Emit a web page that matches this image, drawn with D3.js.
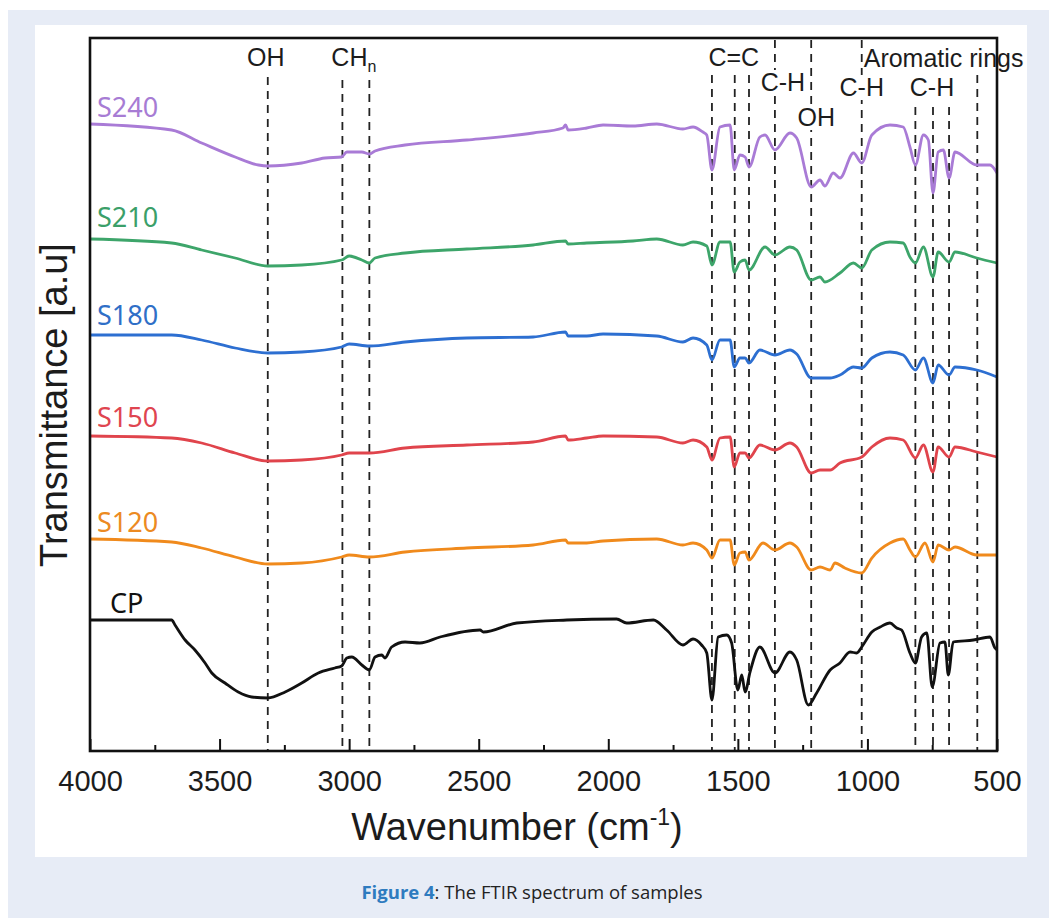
<!DOCTYPE html>
<html lang="en">
<head>
<meta charset="UTF-8">
<title>FTIR spectrum</title>
<script src="https://d3js.org/d3.v7.min.js"></script>
<style>
  body { margin: 0; background: #fff; }
  svg { display: block; }
</style>
</head>
<body>
<script>
// wavenumber (cm-1), transmittance (a.u., offset per sample)
const s240 = [[4000,62.6],[3685,62.0],[3569,60.7],[3440,59.3],[3350,58.5],[3314,58.4],[3183,58.7],[3093,59.2],[3029,59.3],[3009,59.8],[2951,59.8],[2922,59.6],[2900,59.9],[2784,60.5],[2546,61.0],[2290,61.7],[2175,62.2],[2165,62.5],[2155,62.0],[2083,62.2],[2020,62.5],[1905,62.4],[1813,62.6],[1712,62.1],[1673,62.3],[1635,61.8],[1620,61.5],[1600,58.0],[1569,62.3],[1530,62.5],[1514,58.0],[1492,59.5],[1472,59.3],[1457,58.3],[1415,61.3],[1395,61.5],[1357,60.0],[1299,61.7],[1273,61.2],[1217,56.3],[1183,57.0],[1164,56.4],[1132,57.7],[1106,57.2],[1054,59.7],[1022,58.7],[983,61.5],[913,62.5],[862,62.3],[836,60.3],[815,58.5],[784,61.5],[765,61.0],[747,55.7],[727,59.8],[707,60.0],[685,57.2],[662,59.8],[578,58.5],[527,58.5],[500,57.7]];
const s210 = [[4000,51.1],[3685,50.7],[3569,50.0],[3440,49.2],[3314,48.4],[3183,48.5],[3029,49.0],[3000,49.4],[2951,49.0],[2922,48.7],[2900,49.2],[2784,49.7],[2546,50.1],[2290,50.5],[2165,50.9],[2155,50.6],[2083,50.7],[1905,50.9],[1813,51.1],[1712,50.5],[1673,50.8],[1620,50.4],[1600,48.5],[1569,50.8],[1530,50.8],[1514,47.8],[1492,48.8],[1472,49.0],[1457,48.0],[1395,50.3],[1357,49.5],[1299,50.3],[1273,50.0],[1217,47.0],[1183,47.3],[1164,46.8],[1106,47.7],[1054,48.7],[1022,48.2],[983,50.0],[913,50.8],[862,50.7],[836,49.3],[815,48.7],[784,50.3],[747,47.3],[727,49.8],[685,48.8],[662,49.8],[578,49.2],[500,48.7]];
const s180 = [[4000,41.5],[3685,41.5],[3569,41.0],[3440,40.2],[3314,39.7],[3183,39.8],[3029,40.3],[3000,40.6],[2922,40.4],[2784,40.8],[2546,41.2],[2290,41.3],[2165,41.8],[2155,41.4],[2083,41.4],[2020,41.6],[1813,41.4],[1712,40.8],[1673,41.2],[1620,40.5],[1600,39.0],[1569,41.0],[1530,41.0],[1514,38.3],[1492,39.2],[1472,39.2],[1457,38.7],[1415,40.0],[1357,39.5],[1299,40.0],[1273,39.6],[1217,37.2],[1183,37.2],[1144,37.2],[1106,37.5],[1054,38.3],[1022,38.2],[983,39.2],[913,39.8],[862,39.5],[815,38.0],[784,39.2],[747,36.7],[727,38.5],[685,37.5],[662,38.3],[578,38.0],[500,37.3]];
const s150 = [[4000,31.4],[3685,31.2],[3569,30.7],[3440,29.7],[3314,28.9],[3183,29.0],[3029,29.5],[3000,29.7],[2922,29.7],[2784,30.2],[2546,30.5],[2290,30.8],[2165,31.4],[2155,31.0],[2083,31.2],[2020,31.4],[1813,31.3],[1712,30.7],[1673,31.0],[1620,30.3],[1600,29.0],[1569,31.2],[1530,31.3],[1514,28.3],[1492,29.7],[1472,29.7],[1457,29.2],[1415,30.5],[1357,30.0],[1299,30.7],[1273,30.3],[1217,27.7],[1183,28.0],[1144,28.0],[1106,28.7],[1022,29.3],[983,30.3],[913,31.2],[862,31.0],[815,29.2],[784,30.5],[747,27.8],[727,30.3],[685,29.3],[662,30.3],[578,29.8],[500,29.3]];
const s120 = [[4000,21.1],[3685,20.8],[3569,20.2],[3440,19.3],[3314,18.6],[3183,18.7],[3029,19.3],[3000,19.5],[2922,19.3],[2784,19.8],[2546,20.2],[2290,20.5],[2165,21.0],[2155,20.7],[2083,20.7],[2020,20.9],[1813,21.1],[1712,20.5],[1673,20.7],[1620,20.0],[1600,19.2],[1569,21.0],[1530,21.0],[1514,18.5],[1492,19.7],[1472,19.8],[1457,19.0],[1403,20.7],[1357,20.0],[1299,20.7],[1273,20.3],[1217,18.0],[1183,18.3],[1144,18.0],[1125,18.7],[1087,18.2],[1022,17.7],[983,19.2],[913,20.7],[862,21.1],[836,20.0],[815,19.3],[778,20.7],[747,18.8],[727,20.5],[685,20.0],[662,20.3],[578,19.5],[500,19.5]];
const cp = [[4000,13.0],[3685,13.0],[3672,12.5],[3633,11.0],[3595,10.0],[3556,8.7],[3530,7.7],[3479,6.7],[3428,5.8],[3376,5.3],[3314,5.2],[3247,5.8],[3183,6.7],[3119,7.7],[3055,8.2],[3029,8.4],[3009,9.2],[2990,9.3],[2951,8.5],[2922,8.0],[2900,9.3],[2874,9.5],[2862,9.2],[2836,10.3],[2784,10.8],[2727,10.7],[2649,11.3],[2495,12.0],[2482,11.8],[2353,12.7],[2160,13.0],[1968,13.1],[1929,12.7],[1826,13.0],[1775,12.0],[1712,10.5],[1673,11.1],[1640,10.5],[1620,9.7],[1600,5.0],[1576,11.3],[1543,11.5],[1524,10.7],[1500,6.0],[1485,7.5],[1472,5.8],[1453,7.8],[1415,10.3],[1357,7.7],[1299,9.8],[1273,9.0],[1228,4.5],[1196,5.7],[1144,8.0],[1106,8.7],[1067,9.8],[1041,9.7],[1022,10.3],[983,11.8],[951,12.3],[913,12.7],[887,12.2],[868,12.0],[836,9.7],[815,8.7],[791,11.3],[771,11.7],[750,6.3],[720,10.7],[701,10.8],[688,7.5],[669,10.8],[591,11.0],[527,11.3],[508,10.2],[500,10.0]];

const sampleNames = ["S240", "S210", "S180", "S150", "S120", "CP"];
const sampleData = [s240, s210, s180, s150, s120, cp];

// band positions (cm-1) marked with dashed lines
const bandLines = [3314, 3026, 2922, 1600, 1512, 1457, 1357, 1217, 1022, 815, 747, 685, 576];
const bandLabels = ["OH", "CH", "C=C", "C-H", "OH", "C-H", "Aromatic rings", "C-H"];

const majorTicks = [4000, 3500, 3000, 2500, 2000, 1500, 1000, 500];
const minorTicks = [3750, 3250, 2750, 2250, 1750, 1250, 750];

// styling / layout
const colors = ["#a97bd6", "#3da56a", "#2d6fd1", "#e0444c", "#f08a1c", "#111111"];
const labelColors = ["#a77cd4", "#3b9f69", "#2f6fc7", "#df4550", "#ec8a22", "#111111"];
const labelPos = [[97, 117], [97, 227], [97, 325], [97, 427], [97, 532], [110, 613]];
const lineTop = [77, 80, 80, 75, 75, 75, 40, 40, 40, 107, 107, 107, 75];
// [wavenumber anchor, x shift, baseline y, anchor, white box]
const bandLabelPos = [
  [3314, -2, 66, "middle", false],
  [2974, -2, 66, "middle", false],
  [1512, -1, 66, "middle", false],
  [1357, 8, 91, "middle", true],
  [1217, 5, 126, "middle", true],
  [1022, 0, 96, "middle", true],
  [1022, 2, 67, "start", false],
  [747, -1, 96, "middle", false]
];

const W = 1049, H = 918;
const svg = d3.select("body").append("svg")
  .attr("width", W)
  .attr("height", H);

// page background
svg.append("rect").attr("x", 8).attr("y", 10).attr("width", W - 8).attr("height", H - 10).attr("fill", "#e7ecf6");
svg.append("rect").attr("x", 35).attr("y", 25).attr("width", 992).attr("height", 832).attr("fill", "#fff");

const plotL = 90, plotR = 997, plotT = 38, plotB = 751;
const x = d3.scaleLinear().domain([4000, 500]).range([plotL, plotR]);
const y = d3.scaleLinear().domain([0, 71.2]).range([750, 38]);

// dashed band lines
svg.append("g").selectAll("line")
  .data(bandLines)
  .enter().append("line")
  .attr("x1", d => x(d)).attr("x2", d => x(d))
  .attr("y1", (d, i) => lineTop[i]).attr("y2", plotB)
  .attr("stroke", "#222")
  .attr("stroke-width", 1.8)
  .attr("stroke-dasharray", "8,6");

// band labels
const bl = svg.append("g")
  .style("font-family", "'Liberation Sans', Arial, sans-serif")
  .style("font-size", "25px")
  .attr("fill", "#1c1c1c");

bandLabels.forEach((t, i) => {
  const p = bandLabelPos[i];
  const g = bl.append("g");
  const txt = g.append("text")
    .attr("x", x(p[0]) + p[1])
    .attr("y", p[2])
    .attr("text-anchor", p[3])
    .text(t);
  if (t === "CH") {
    txt.append("tspan").attr("dy", 6).style("font-size", "16px").text("n");
  }
  if (p[4]) {
    const b = txt.node().getBBox();
    g.insert("rect", "text")
      .attr("x", b.x - 1).attr("y", b.y + 2)
      .attr("width", b.width + 2).attr("height", b.height - 3)
      .attr("fill", "#fff");
  }
});

// spectra
const line = d3.line()
  .x(d => x(d[0]))
  .y(d => y(d[1]))
  .curve(d3.curveMonotoneX);

svg.append("g").selectAll("path")
  .data(sampleData)
  .enter().append("path")
  .attr("d", line)
  .attr("fill", "none")
  .attr("stroke", (d, i) => colors[i])
  .attr("stroke-width", 2.8)
  .attr("stroke-linejoin", "round");

// sample names
svg.append("g").selectAll("text")
  .data(sampleNames)
  .enter().append("text")
  .attr("x", (d, i) => labelPos[i][0])
  .attr("y", (d, i) => labelPos[i][1])
  .attr("fill", (d, i) => labelColors[i])
  .style("font-family", "'Noto Sans', sans-serif")
  .style("font-size", "27px")
  .text(d => d);

// x axis ticks
const axisMajor = d3.axisBottom(x)
  .tickValues(majorTicks)
  .tickSize(-12)
  .tickPadding(19)
  .tickFormat(d3.format("d"));

const gx = svg.append("g")
  .attr("transform", `translate(0,${plotB})`)
  .call(axisMajor);
gx.select(".domain").remove();
gx.selectAll(".tick line").attr("stroke", "#111").attr("stroke-width", 2);
gx.selectAll(".tick text")
  .attr("fill", "#1c1c1c")
  .style("font-family", "'Liberation Sans', Arial, sans-serif")
  .style("font-size", "29px");

const gm = svg.append("g")
  .attr("transform", `translate(0,${plotB})`)
  .call(d3.axisBottom(x).tickValues(minorTicks).tickSize(-6).tickFormat(""));
gm.select(".domain").remove();
gm.selectAll(".tick line").attr("stroke", "#111").attr("stroke-width", 2);

// frame
svg.append("rect")
  .attr("x", plotL).attr("y", plotT)
  .attr("width", plotR - plotL).attr("height", plotB - plotT)
  .attr("fill", "none")
  .attr("stroke", "#111")
  .attr("stroke-width", 2.6);

// axis titles
const xt = svg.append("text")
  .attr("x", 517).attr("y", 840)
  .attr("text-anchor", "middle")
  .attr("fill", "#1c1c1c")
  .style("font-family", "'Liberation Sans', Arial, sans-serif")
  .style("font-size", "38px");
xt.append("tspan").text("Wavenumber (cm");
xt.append("tspan").attr("dy", -15).style("font-size", "23px").text("-1");
xt.append("tspan").attr("dy", 15).text(")");

svg.append("text")
  .attr("transform", "translate(67,405) rotate(-90)")
  .attr("text-anchor", "middle")
  .attr("fill", "#1c1c1c")
  .style("font-family", "'Liberation Sans', Arial, sans-serif")
  .style("font-size", "38px")
  .text("Transmittance [a.u]");

// caption
const cap = svg.append("text")
  .attr("x", 532).attr("y", 899)
  .attr("text-anchor", "middle")
  .attr("fill", "#222")
  .style("font-family", "'Open Sans', sans-serif")
  .style("font-size", "18.5px");
cap.append("tspan").attr("fill", "#2e7bbf").style("font-weight", "bold").text("Figure 4");
cap.append("tspan").text(": The FTIR spectrum of samples");
</script>
</body>
</html>
